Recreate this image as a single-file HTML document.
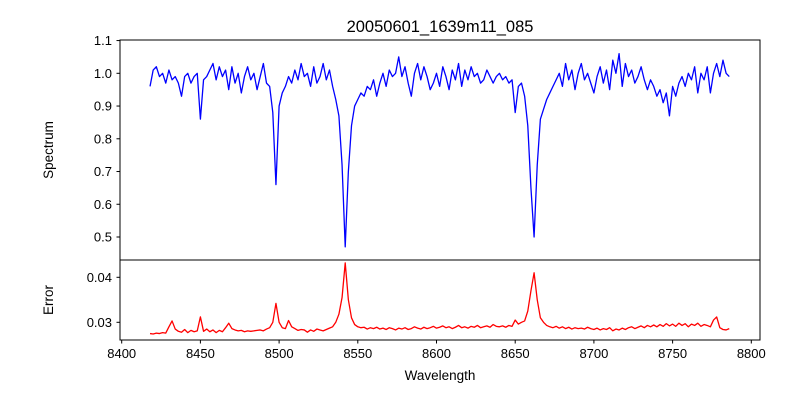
<!DOCTYPE html>
<html><head><meta charset="utf-8"><style>
body{margin:0;background:#fff}
svg text{font-family:"Liberation Sans","DejaVu Sans",sans-serif;fill:#000}
</style></head><body>
<svg id="chart" width="800" height="400" xmlns="http://www.w3.org/2000/svg">
<rect width="800" height="400" fill="#fff"/>
<text x="440" y="32" font-size="16.5" text-anchor="middle">20050601_1639m11_085</text>
<text transform="translate(53,150) rotate(-90)" font-size="13.5" text-anchor="middle">Spectrum</text>
<text transform="translate(53,300) rotate(-90)" font-size="13.5" text-anchor="middle">Error</text>
<text x="440" y="380" font-size="13.5" text-anchor="middle">Wavelength</text>
<g id="top-ticks"></g><g id="bot-ticks"></g><g id="x-ticks"></g>
<path id="flux-line" fill="none" stroke="#0000ff" stroke-width="1.3" stroke-linejoin="round"/>
<path id="err-line" fill="none" stroke="#ff0000" stroke-width="1.3" stroke-linejoin="round"/>
<rect x="120" y="40" width="640" height="220" fill="none" stroke="#000" stroke-width="1"/>
<rect x="120" y="260" width="640" height="80" fill="none" stroke="#000" stroke-width="1"/>
</svg>
<script>
const wlStart = 8418;
const wlStep = 2;
const flux = [
0.96,1.01,1.02,0.99,1.00,0.97,1.01,0.98,0.99,0.97,
0.93,0.99,1.00,0.97,0.99,1.00,0.86,0.98,0.99,1.01,
1.03,0.98,1.02,0.99,1.01,0.95,1.02,0.97,1.00,0.94,
0.99,1.02,0.98,1.00,0.95,0.99,1.03,0.97,0.96,0.88,
0.66,0.90,0.94,0.96,0.99,0.97,1.01,0.98,1.03,0.99,
1.00,0.96,1.02,0.97,0.99,1.03,0.98,1.01,0.96,0.92,
0.87,0.72,0.47,0.70,0.84,0.90,0.92,0.94,0.93,0.96,
0.95,0.98,0.93,0.97,1.00,0.96,1.01,0.99,1.00,1.05,
0.99,1.02,0.97,0.93,1.00,1.03,0.98,1.02,0.99,0.95,
0.97,1.00,0.96,1.02,0.99,0.95,1.01,0.98,1.03,0.96,
1.01,0.98,1.02,0.99,1.00,0.97,0.98,1.01,0.99,0.97,
0.99,1.00,0.98,0.99,0.97,0.98,0.88,0.96,0.97,0.93,
0.84,0.65,0.50,0.72,0.86,0.89,0.92,0.94,0.96,0.98,
1.00,0.96,1.03,0.98,1.01,0.95,1.00,1.03,0.98,1.00,
0.97,0.94,0.99,1.02,0.97,1.01,0.95,1.04,1.00,1.06,
0.96,1.03,0.99,1.01,0.97,0.99,1.02,0.98,0.95,0.98,
0.96,0.93,0.95,0.91,0.94,0.87,0.96,0.93,0.97,0.99,
0.96,1.00,0.98,1.02,0.94,1.00,0.98,1.02,0.94,1.00,
1.03,0.99,1.04,1.00,0.99];
const err = [
.0275,.0274,.0276,.0275,.0277,.0276,.0290,.0303,.0285,.0280,
.0278,.0284,.0277,.0282,.0279,.0281,.0312,.0280,.0285,.0279,
.0283,.0277,.0282,.0279,.0288,.0298,.0286,.0283,.0281,.0282,
.0279,.0281,.0280,.0281,.0282,.0283,.0281,.0285,.0288,.0300,
.0342,.0300,.0288,.0286,.0304,.0290,.0286,.0282,.0284,.0283,
.0278,.0283,.0280,.0285,.0283,.0281,.0284,.0287,.0290,.0300,
.0318,.0355,.0432,.0350,.0310,.0295,.0290,.0288,.0289,.0285,
.0288,.0286,.0289,.0285,.0287,.0284,.0288,.0286,.0283,.0287,
.0285,.0288,.0284,.0286,.0290,.0287,.0285,.0289,.0286,.0288,
.0291,.0287,.0289,.0292,.0288,.0290,.0286,.0289,.0293,.0288,
.0290,.0287,.0291,.0289,.0293,.0288,.0290,.0292,.0289,.0295,
.0291,.0290,.0292,.0289,.0293,.0291,.0305,.0296,.0300,.0303,
.0325,.0370,.0410,.0350,.0310,.0300,.0293,.0290,.0288,.0291,
.0287,.0290,.0286,.0289,.0285,.0288,.0286,.0287,.0285,.0289,
.0286,.0284,.0287,.0283,.0286,.0284,.0288,.0281,.0285,.0283,
.0287,.0284,.0288,.0290,.0286,.0289,.0292,.0288,.0293,.0290,
.0294,.0290,.0295,.0291,.0297,.0292,.0296,.0291,.0298,.0293,
.0297,.0290,.0296,.0293,.0298,.0291,.0295,.0293,.0290,.0305,
.0312,.0288,.0284,.0283,.0286];
const xTicks = [8400,8450,8500,8550,8600,8650,8700,8750,8800];
const fluxTicks = [0.5,0.6,0.7,0.8,0.9,1.0,1.1];
const errTicks = [0.03,0.04];

const NS = "http://www.w3.org/2000/svg";
const X = w => 121.7 + (w - 8400) * 1.574;
const YF = v => 73.3 - (v - 1.0) * 327.4;
const YE = v => 322.3 - (v - 0.03) * 4500;

function path(arr, yf){
  return arr.map((v,i)=>(i?'L':'M')+X(wlStart+i*wlStep).toFixed(2)+','+yf(v).toFixed(2)).join('');
}
document.getElementById('flux-line').setAttribute('d', path(flux, YF));
document.getElementById('err-line').setAttribute('d', path(err, YE));

function tick(g, x1,y1,x2,y2){
  const l=document.createElementNS(NS,'line');
  l.setAttribute('x1',x1);l.setAttribute('y1',y1);l.setAttribute('x2',x2);l.setAttribute('y2',y2);
  l.setAttribute('stroke','#000');
  
  
  g.appendChild(l);
}
function label(g, x, y, txt, anchor){
  const t=document.createElementNS(NS,'text');
  t.setAttribute('x',x);t.setAttribute('y',y);t.setAttribute('font-size','13');
  t.setAttribute('text-anchor',anchor);
  t.textContent=txt;
  
  
  g.appendChild(t);
}
const gt=document.getElementById('top-ticks');
fluxTicks.forEach(v=>{const y=YF(v);tick(gt,116.5,y,120,y);label(gt,112,y+4.5,v.toFixed(1),'end');});
const gb=document.getElementById('bot-ticks');
errTicks.forEach(v=>{const y=YE(v);tick(gb,116.5,y,120,y);label(gb,112,y+4.5,v.toFixed(2),'end');});
const gx=document.getElementById('x-ticks');
xTicks.forEach(v=>{const x=X(v);tick(gx,x,340,x,343.5);label(gx,x,358,String(v),'middle');});
</script>
</body></html>
